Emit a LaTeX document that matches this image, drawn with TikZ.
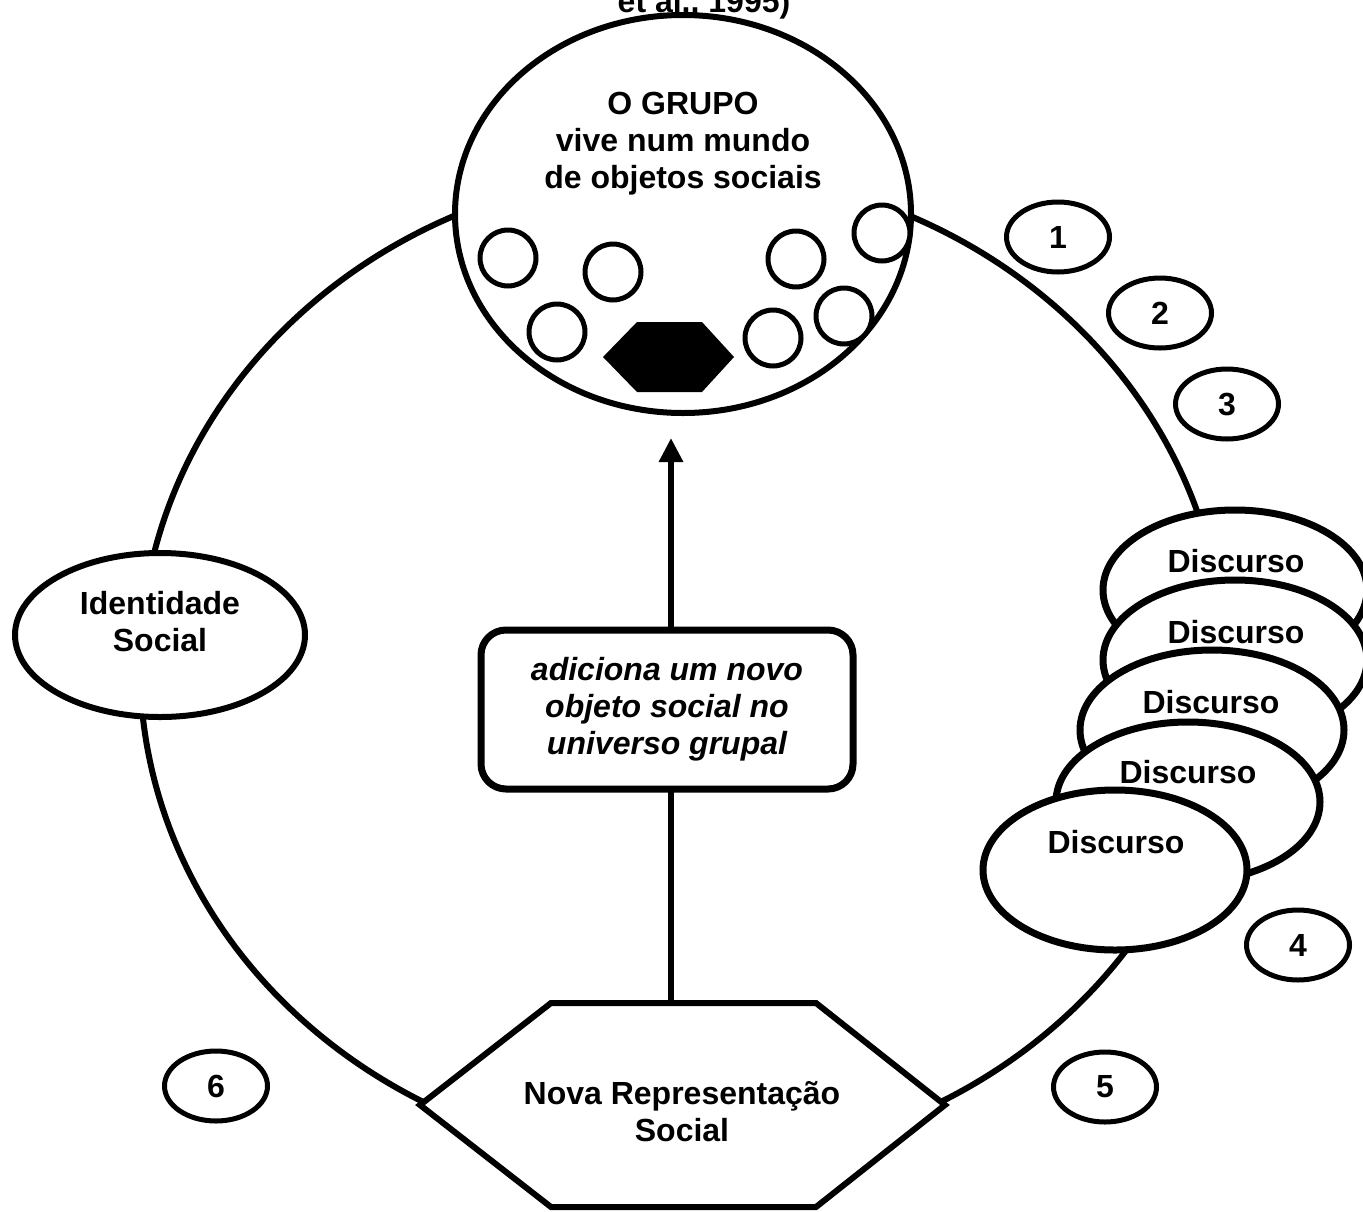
\documentclass[tikz,border=0pt]{standalone}
\usepackage{fontspec}
\setmainfont{Liberation Sans}
\usetikzlibrary{shapes.geometric,arrows.meta}
\begin{document}
\begin{tikzpicture}[x=1pt,y=-1pt,
  lbl/.style={font=\bfseries\fontsize{32}{37}\selectfont, align=center, inner sep=0pt},
  ring/.style={line width=6pt},
  grupobox/.style={ellipse, draw, line width=6pt, fill=white, minimum width=456pt, minimum height=398pt, inner sep=0pt},
  obj/.style={circle, draw, line width=5pt, fill=white, minimum size=56pt, inner sep=0pt},
  identbox/.style={ellipse, draw, line width=6pt, fill=white, minimum width=290pt, minimum height=164pt, inner sep=0pt},
  disc/.style={ellipse, draw, line width=7pt, fill=white, minimum width=264pt, minimum height=160pt, inner sep=0pt},
  numb/.style={ellipse, draw, line width=5pt, fill=white, minimum width=103pt, minimum height=70pt, inner sep=0pt, lbl},
  addbox/.style={rectangle, rounded corners=25pt, draw, line width=7pt, fill=white, minimum width=372pt, minimum height=159pt, lbl},
  uparrow/.style={line width=6pt, -{Triangle[length=24pt,width=23pt]}}
]
\path[use as bounding box] (0,0) rectangle (1363,1211);
\clip (0,0) rectangle (1363,1211);

% source line of the caption
\node[lbl, anchor=base] (src) at (704,12) {et al., 1995)};

% the cycle
\draw[ring] (682,666) ellipse [x radius=542pt, y radius=496pt];

% the group and its social objects (multi-line texts are placed by their last baseline)
\node[grupobox] (grupo) at (683,214) {};
\node[lbl, anchor=base] (grupotxt) at (683,188) {O GRUPO\\vive num mundo\\de objetos sociais};
\node[obj] (o1) at (508,258) {};
\node[obj] (o2) at (613,272) {};
\node[obj] (o3) at (557,332) {};
\node[obj] (o4) at (796,259) {};
\node[obj] (o5) at (882,233) {};
\node[obj] (o6) at (844,316) {};
\node[obj] (o7) at (773,338) {};
\fill (603,357) -- (637,322) -- (702,322) -- (734,357) -- (702,392) -- (637,392) -- cycle;

% social identity
\node[identbox] (ident) at (160,635) {};
\node[lbl, anchor=base] (identtxt) at (160,651) {Identidade\\Social};

% stacked discourses
\node[disc] (d1) at (1235,590) {};
\node[lbl, anchor=base] (d1t) at (1236,572) {Discurso};
\node[disc] (d2) at (1235,660) {};
\node[lbl, anchor=base] (d2t) at (1236,643) {Discurso};
\node[disc] (d3) at (1212,730) {};
\node[lbl, anchor=base] (d3t) at (1211,713) {Discurso};
\node[disc] (d4) at (1188,802) {};
\node[lbl, anchor=base] (d4t) at (1188,783) {Discurso};
\node[disc] (d5) at (1115,870) {};
\node[lbl, anchor=base] (d5t) at (1116,853) {Discurso};

% numbered steps
\node[numb] (n1) at (1058,237) {1};
\node[numb] (n2) at (1160,313) {2};
\node[numb] (n3) at (1227,404) {3};
\node[numb] (n4) at (1298,945) {4};
\node[numb] (n5) at (1105,1087) {5};
\node[numb] (n6) at (216,1086) {6};

% new social representation
\draw[line width=6pt, fill=white, line join=miter]
  (420,1105) -- (551,1003) -- (816,1003) -- (945,1105) -- (816,1207) -- (551,1207) -- cycle;
\node[lbl, anchor=base] (nova) at (682,1141) {Nova Representação\\Social};

% arrow back to the group
\coordinate (hextop) at (671,1003);
\coordinate (tip) at (671,438);
\draw[uparrow] (hextop) -- (tip);
\node[addbox] (add) at (667,709.5) {\itshape adiciona um novo\\\itshape objeto social no\\\itshape universo grupal};
\end{tikzpicture}
\end{document}
